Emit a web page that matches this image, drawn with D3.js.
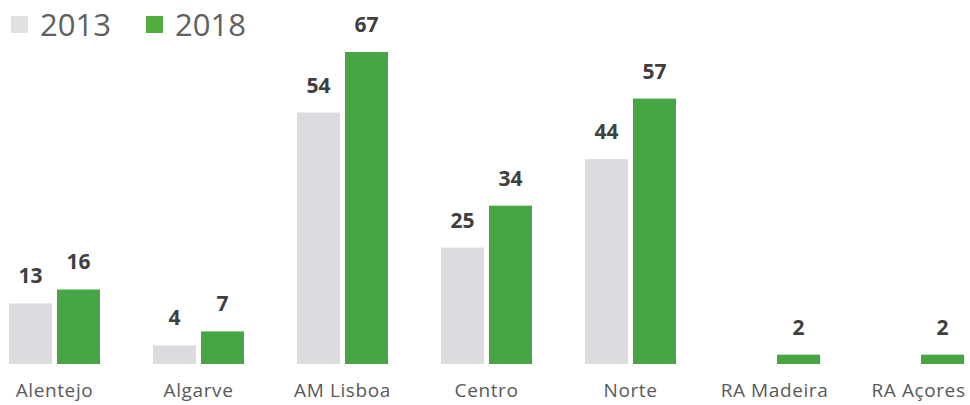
<!DOCTYPE html>
<html>
<head>
<meta charset="utf-8">
<script src="https://cdn.jsdelivr.net/npm/d3@7"></script>
<style>
  body { margin: 0; background: #fff; }
  svg { display: block; font-family: "Open Sans", sans-serif; }
</style>
</head>
<body>
<div id="chart"></div>
<script>
// data
const regions = ["Alentejo", "Algarve", "AM Lisboa", "Centro", "Norte", "RA Madeira", "RA Açores"];
const years = ["2013", "2018"];
const values2013 = [13, 4, 54, 25, 44, null, null];
const values2018 = [16, 7, 67, 34, 57, 2, 2];

const width = 970, height = 405;
const color = { "2013": "#d9dbde", "2018": "#46a644" };

const svg = d3.select("#chart")
  .append("svg")
    .attr("width", width)
    .attr("height", height);

// group scale: each region gets a 144px slot
const x0 = d3.scaleBand()
  .domain(regions)
  .range([-17.5, 990.5])
  .paddingInner(0.368)
  .paddingOuter(0.184);

const x1 = d3.scaleBand()
  .domain(years)
  .range([0, x0.bandwidth()])
  .paddingInner(0.104);

const y = d3.scaleLinear()
  .domain([0, 67])
  .range([364, 52]);

const rows = regions.map((r, i) => ({
  region: r,
  items: [
    { year: "2013", value: values2013[i] },
    { year: "2018", value: values2018[i] }
  ].filter(d => d.value != null)
}));

const groups = svg.selectAll("g.group")
  .data(rows)
  .join("g")
    .attr("class", "group")
    .attr("transform", d => `translate(${x0(d.region)},0)`);

groups.selectAll("rect")
  .data(d => d.items)
  .join("rect")
    .attr("x", d => x1(d.year))
    .attr("y", d => y(d.value))
    .attr("width", x1.bandwidth())
    .attr("height", d => y(0) - y(d.value))
    .attr("fill", d => color[d.year]);

// value labels over the bars
groups.selectAll("text.val")
  .data(d => d.items)
  .join("text")
    .attr("class", "val")
    .attr("x", d => x1(d.year) + x1.bandwidth() / 2)
    .attr("y", d => y(d.value) - 20)
    .attr("text-anchor", "middle")
    .style("font-size", "21px")
    .style("font-weight", "bold")
    .style("fill", "#3f3f3f")
    .text(d => d.value);

// category axis, no line or ticks
const xAxis = svg.append("g")
  .attr("transform", "translate(0,364)")
  .call(d3.axisBottom(x0).tickSize(0).tickPadding(0));
xAxis.select(".domain").remove();
xAxis.selectAll("text")
  .attr("dy", 0)
  .attr("y", 33)
  .style("font-family", "'Open Sans', sans-serif")
  .style("font-size", "19px")
  .style("letter-spacing", "0.6px")
  .style("fill", "#595959");

// legend
const legendX = [11, 146];
const legend = svg.selectAll("g.legend")
  .data(years)
  .join("g")
    .attr("class", "legend")
    .attr("transform", (d, i) => `translate(${legendX[i]},0)`);

legend.append("rect")
  .attr("x", 0)
  .attr("y", 16)
  .attr("width", 17)
  .attr("height", 17)
  .attr("fill", d => d === "2018" ? "#53ad3c" : "#dfe1e3");

legend.append("text")
  .attr("x", 29)
  .attr("y", 36)
  .style("font-size", "31px")
  .style("fill", "#606060")
  .text(d => d);
</script>
</body>
</html>
